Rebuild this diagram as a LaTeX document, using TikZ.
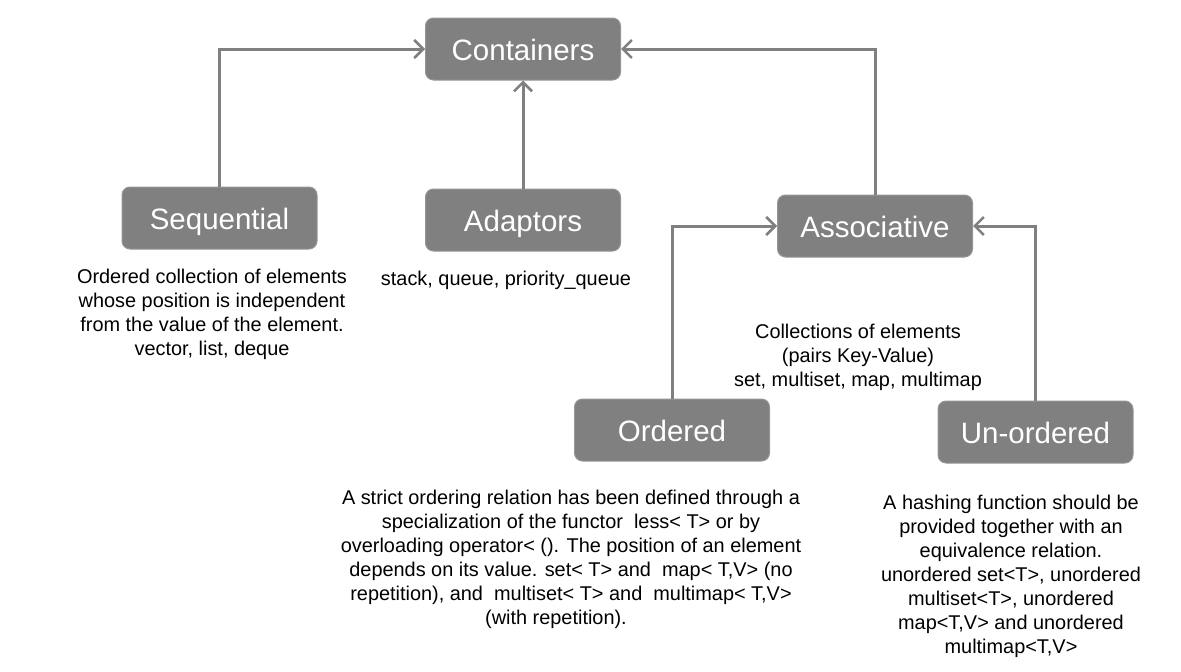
\documentclass[tikz,border=0pt]{standalone}
\usepackage{fontspec}
\setmainfont{Liberation Sans}
\usetikzlibrary{arrows.meta}
\definecolor{boxgray}{RGB}{128,128,128}
\definecolor{boxedge}{RGB}{150,150,150}
\definecolor{linegray}{RGB}{128,128,128}
\begin{document}
\begin{tikzpicture}[x=1pt,y=-1pt,
  cat/.style={draw=boxedge, line width=1pt, fill=boxgray, rounded corners=8pt,
    text=white, font=\fontsize{29.5}{34}\selectfont,
    text height=26pt, text depth=4pt,
    minimum width=195pt, minimum height=62pt, inner sep=0pt},
  desc/.style={font=\fontsize{19.9}{24}\selectfont, align=center, inner sep=0pt, text=black},
  link/.style={draw=linegray, line width=3pt,
    -{Straight Barb[length=9pt,width=18pt,line width=2.5pt]}}
]
\useasboundingbox[fill=white] (0,0) rectangle (1181,672);

\node[cat] (cont)  at (523,49)    {Containers};
\node[cat] (seq)   at (219.5,218) {Sequential};
\node[cat] (adap)  at (523,220)   {Adaptors};
\node[cat] (assoc) at (875,226)   {Associative};
\node[cat] (ord)   at (672,430)   {Ordered};
\node[cat] (unord) at (1035.5,432) {Un-ordered};

\draw[link] (seq.north) |- (cont.west);
\draw[link] (adap.north) -- (cont.south);
\draw[link] (assoc.north) |- (cont.east);
\draw[link] (ord.north) |- (assoc.west);
\draw[link] (unord.north) |- (assoc.east);

\node[desc] (seqtxt) at (212,314) {Ordered collection of elements\\whose position is independent\\from the value of the element.\\vector, list, deque};
\node[desc] (adaptxt) at (506,280) {stack, queue, priority\_queue};
\node[desc] (assoctxt) at (858,357) {Collections of elements\\(pairs Key-Value)\\set, multiset, map, multimap};
\node[desc] (ordtxt) at (571,559) {A strict ordering relation has been defined through a\\specialization of the functor\ \ less< T> or by\hspace*{22pt}\\overloading operator< (). The position of an element\\depends on its value. set< T> and\ \ map< T,V> (no\\repetition), and\ \ multiset< T> and\ \ multimap< T,V>\\(with repetition).\hspace*{30pt}};
\node[desc] (unordtxt) at (1011,576) {A hashing function should be\\provided together with an\\equivalence relation.\\unordered set<T>, unordered\\multiset<T>, unordered\\map<T,V> and unordered\\multimap<T,V>};
\end{tikzpicture}
\end{document}
